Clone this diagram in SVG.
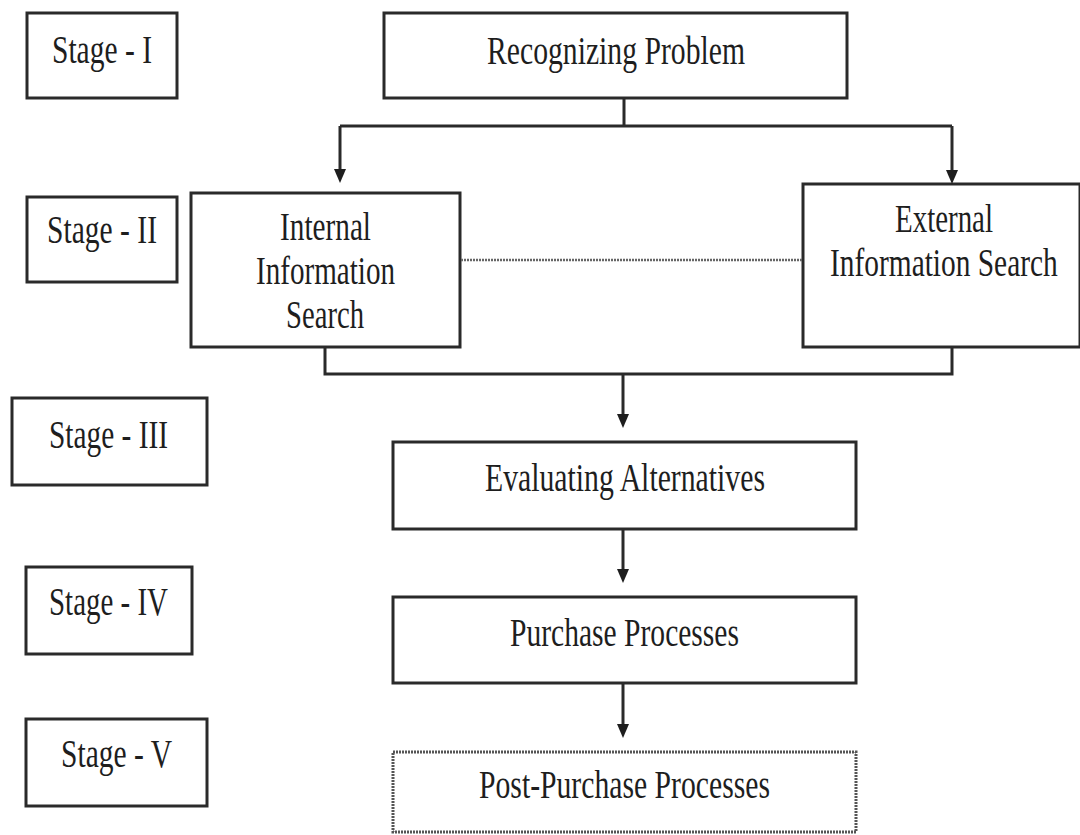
<svg xmlns="http://www.w3.org/2000/svg" width="1080" height="835" viewBox="0 0 1080 835">
<style>
  .box { fill: #fff; stroke: #2a2a2a; stroke-width: 3; }
  .dbox { fill: #fff; stroke: #555; stroke-width: 3; stroke-dasharray: 2 1; }
  .t { font-family: "Liberation Serif", "Times New Roman", serif; font-size: 39px; fill: #1e1e1e; text-anchor: start; }
  .c { fill: none; stroke: #2a2a2a; stroke-width: 3; }
  .dot { fill: none; stroke: #666; stroke-width: 2.5; stroke-dasharray: 2 1; }
</style>
<defs>
  <marker id="arr" viewBox="0 0 14 12" refX="2" refY="6" markerWidth="14" markerHeight="12" markerUnits="userSpaceOnUse" orient="auto">
    <path d="M0,0 L14,6 L0,12 z" fill="#1e1e1e"/>
  </marker>
</defs>
<rect width="1080" height="835" fill="#fff"/>

<g id="stage1"><rect class="box" x="27" y="13" width="150" height="85"/><text class="t" x="52" y="63" textLength="100" lengthAdjust="spacingAndGlyphs">Stage - I</text></g>
<g id="stage2"><rect class="box" x="27" y="197" width="150" height="85"/><text class="t" x="47" y="243" textLength="110" lengthAdjust="spacingAndGlyphs">Stage - II</text></g>
<g id="stage3"><rect class="box" x="12" y="398" width="195" height="87"/><text class="t" x="49" y="448" textLength="119" lengthAdjust="spacingAndGlyphs">Stage - III</text></g>
<g id="stage4"><rect class="box" x="26" y="567" width="166" height="87"/><text class="t" x="49" y="615" textLength="119" lengthAdjust="spacingAndGlyphs">Stage - IV</text></g>
<g id="stage5"><rect class="box" x="26" y="719" width="181" height="87"/><text class="t" x="61" y="767" textLength="111" lengthAdjust="spacingAndGlyphs">Stage - V</text></g>

<g id="recognizing"><rect class="box" x="384" y="13" width="463" height="85"/><text class="t" x="487" y="64" textLength="258" lengthAdjust="spacingAndGlyphs">Recognizing Problem</text></g>
<g id="internal"><rect class="box" x="191" y="193" width="269" height="154"/>
  <text class="t" x="280" y="240" textLength="91" lengthAdjust="spacingAndGlyphs">Internal</text>
  <text class="t" x="256" y="284" textLength="139" lengthAdjust="spacingAndGlyphs">Information</text>
  <text class="t" x="286" y="328" textLength="78" lengthAdjust="spacingAndGlyphs">Search</text></g>
<g id="external"><rect class="box" x="803" y="184" width="277" height="163"/>
  <text class="t" x="895" y="232" textLength="98" lengthAdjust="spacingAndGlyphs">External</text>
  <text class="t" transform="translate(830,276) scale(0.78,1)" x="0" y="0" textLength="292" lengthAdjust="spacingAndGlyphs">Information Search</text></g>
<g id="evaluating"><rect class="box" x="393" y="442" width="463" height="87"/><text class="t" x="485" y="491" textLength="280" lengthAdjust="spacingAndGlyphs">Evaluating Alternatives</text></g>
<g id="purchase"><rect class="box" x="393" y="597" width="463" height="86"/><text class="t" x="510" y="646" textLength="229" lengthAdjust="spacingAndGlyphs">Purchase Processes</text></g>
<g id="postpurchase"><rect class="dbox" x="393" y="752" width="463" height="80"/><text class="t" x="479" y="798" textLength="291" lengthAdjust="spacingAndGlyphs">Post-Purchase Processes</text></g>

<g id="connectors">
  <path class="c" d="M624,98 V126 M340,126 H952"/>
  <path class="c" d="M340,126 V171" marker-end="url(#arr)"/>
  <path class="c" d="M952,126 V172" marker-end="url(#arr)"/>
  <path class="c" d="M325,347 V374 H952 V347"/>
  <path class="c" d="M623,374 V416" marker-end="url(#arr)"/>
  <path class="c" d="M623,529 V571" marker-end="url(#arr)"/>
  <path class="c" d="M623,683 V726" marker-end="url(#arr)"/>
  <path class="dot" d="M461,260 H802"/>
</g>
</svg>
